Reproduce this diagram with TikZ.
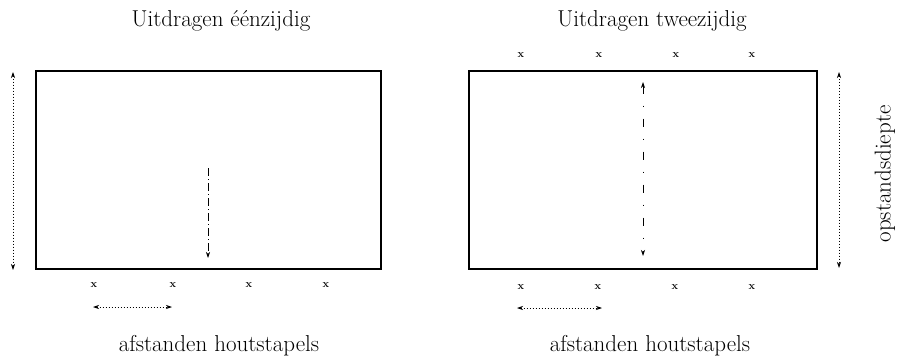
\documentclass[tikz,border=0pt]{standalone}
\usetikzlibrary{arrows.meta}
\begin{document}
\begin{tikzpicture}[x=1pt,y=-1pt,
  wall/.style={line width=2.9pt},
  dim/.style={line width=0.7pt,dash pattern=on 1pt off 2pt,{Stealth[length=6pt,width=4pt]}-{Stealth[length=6pt,width=4pt]}},
  dimone/.style={line width=0.7pt,dash pattern=on 8pt off 3pt on 1pt off 3pt,-{Stealth[length=6pt,width=4pt]}},
  dimtwo/.style={line width=0.7pt,dash pattern=on 8pt off 12pt on 1pt off 12pt,{Stealth[length=6pt,width=4pt]}-{Stealth[length=6pt,width=4pt]}},
  lbl/.style={font=\fontsize{23}{26}\selectfont,inner sep=0pt},
  cross/.style={font=\bfseries\fontsize{11}{12}\selectfont,inner sep=0pt}]
\useasboundingbox (0,0) rectangle (900,356);

% titles
\node[lbl] (t1) at (221,21) {Uitdragen éénzijdig};
\node[lbl] (t2) at (652,21) {Uitdragen tweezijdig};

% rectangles
\draw[wall] (36,71) rectangle (381,269);
\draw[wall] (469,71) rectangle (817,269);

% left: stacks below
\node[cross] (a1) at (94,285) {x};
\node[cross] (a2) at (173,285) {x};
\node[cross] (a3) at (249,285) {x};
\node[cross] (a4) at (326,285) {x};
\coordinate (ah1) at (93,307);
\coordinate (ah2) at (172,307);
\draw[dim] (ah1) -- (ah2);

% left: dimension and interior arrow
\coordinate (ld1) at (13,72);
\coordinate (ld2) at (13,270);
\draw[dim] (ld1) -- (ld2);
\coordinate (li1) at (208,168);
\coordinate (li2) at (208,258);
\draw[dimone] (li1) -- (li2);

% right: stacks above and below
\node[cross] (b1) at (521,55) {x};
\node[cross] (b2) at (599,55) {x};
\node[cross] (b3) at (676,55) {x};
\node[cross] (b4) at (752,55) {x};
\node[cross] (c1) at (521,287) {x};
\node[cross] (c2) at (598,287) {x};
\node[cross] (c3) at (675,287) {x};
\node[cross] (c4) at (752,287) {x};
\coordinate (bh1) at (517,308);
\coordinate (bh2) at (602,308);
\draw[dim] (bh1) -- (bh2);

% right: interior arrow and dimension
\coordinate (ri1) at (643,82);
\coordinate (ri2) at (643,256);
\draw[dimtwo] (ri1) -- (ri2);
\coordinate (rd1) at (839,72);
\coordinate (rd2) at (839,268);
\draw[dim] (rd1) -- (rd2);

% labels
\node[lbl] (f1) at (219,346) {afstanden houtstapels};
\node[lbl] (f2) at (650,346) {afstanden houtstapels};
\node[lbl,rotate=90] (od) at (885,174) {opstandsdiepte};
\end{tikzpicture}
\end{document}
